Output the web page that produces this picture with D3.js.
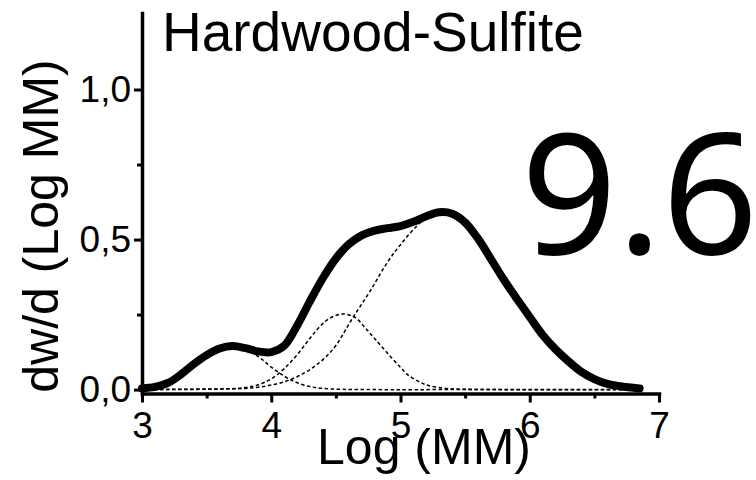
<!DOCTYPE html>
<html>
<head>
<meta charset="utf-8">
<script src="https://cdn.jsdelivr.net/npm/d3@7"></script>
<style>
  body { margin: 0; background: #fff; }
  text { font-family: "Liberation Sans", Arial, sans-serif; fill: #000; }
</style>
</head>
<body>
<div id="chart"></div>
<script>
// values
const mainX = [3.00, 3.10, 3.20, 3.30, 3.40, 3.50, 3.60, 3.70, 3.80, 3.90, 4.00, 4.10, 4.20, 4.30, 4.40, 4.50, 4.60, 4.70, 4.80, 4.90, 5.00, 5.10, 5.20, 5.30, 5.40, 5.50, 5.60, 5.70, 5.80, 5.90, 6.00, 6.10, 6.20, 6.30, 6.40, 6.50, 6.60, 6.70, 6.85];
const mainY = [0.004, 0.009, 0.022, 0.050, 0.085, 0.115, 0.137, 0.145, 0.138, 0.127, 0.125, 0.146, 0.213, 0.295, 0.372, 0.437, 0.484, 0.514, 0.530, 0.538, 0.545, 0.559, 0.578, 0.591, 0.586, 0.557, 0.503, 0.435, 0.366, 0.303, 0.242, 0.182, 0.134, 0.094, 0.059, 0.035, 0.019, 0.011, 0.004];

// fitted peaks (dashed)
const peak1X = [3.00, 3.10, 3.20, 3.30, 3.40, 3.50, 3.60, 3.72, 3.80, 3.90, 4.00, 4.10, 4.20, 4.30, 4.40, 4.55, 4.80, 5.50, 6.85];
const peak1Y = [0.005, 0.012, 0.025, 0.047, 0.076, 0.105, 0.130, 0.142, 0.135, 0.110, 0.075, 0.045, 0.023, 0.010, 0.004, 0.001, 0.000, 0.000, 0.000];

const peak2X = [3.00, 3.50, 3.70, 3.80, 3.90, 4.00, 4.10, 4.20, 4.30, 4.38, 4.45, 4.55, 4.65, 4.73, 4.80, 4.90, 5.00, 5.06, 5.15, 5.22, 5.35, 5.50, 6.85];
const peak2Y = [0.000, 0.001, 0.003, 0.007, 0.016, 0.036, 0.070, 0.116, 0.171, 0.212, 0.237, 0.252, 0.240, 0.204, 0.170, 0.121, 0.074, 0.048, 0.025, 0.013, 0.004, 0.001, 0.000];

const peak3X = [3.00, 3.50, 3.80, 3.90, 4.00, 4.10, 4.20, 4.30, 4.40, 4.50, 4.62, 4.76, 4.90, 5.00, 5.11, 5.20, 5.30, 5.40, 5.50, 5.60, 5.70, 5.80, 5.90, 6.00, 6.10, 6.20, 6.30, 6.40, 6.50, 6.60, 6.70, 6.85];
const peak3Y = [0.000, 0.002, 0.004, 0.008, 0.015, 0.026, 0.043, 0.067, 0.100, 0.147, 0.232, 0.325, 0.425, 0.483, 0.538, 0.572, 0.588, 0.582, 0.554, 0.500, 0.432, 0.363, 0.300, 0.240, 0.180, 0.132, 0.092, 0.058, 0.034, 0.018, 0.010, 0.003];

const xTicks = [3, 4, 5, 6, 7];
const xMinorTicks = [3.5, 4.5, 5.5, 6.5];
const yTicks = [0, 0.5, 1.0];
const yTickLabels = ["0,0", "0,5", "1,0"];
const yMinorTicks = [0.25, 0.75];
const xDomain = [3, 7];
const yDomain = [-0.013, 1.255];

const chartTitle = "Hardwood-Sulfite";
const sampleLabel = "9.6";
const xTitle = "Log (MM)";
const yTitle = "dw/d (Log MM)";

const svgWidth = 756;
const svgHeight = 480;

// plot box
const plot = { left: 142, right: 659, top: 13, bottom: 393.5 };

const svg = d3
  .select("#chart")
  .append("svg")
  .attr("width", svgWidth)
  .attr("height", svgHeight);

const x = d3.scaleLinear().domain(xDomain).range([plot.left, plot.right]);
const y = d3.scaleLinear().domain(yDomain).range([plot.bottom, plot.top]);

// curves
const line = d3.line()
  .x(d => x(d[0]))
  .y(d => y(d[1]))
  .curve(d3.curveCatmullRom.alpha(0.5));

const peaks = [[peak1X, peak1Y], [peak2X, peak2Y], [peak3X, peak3Y]];

svg.append("g")
  .selectAll("path")
  .data(peaks)
  .enter()
  .append("path")
  .attr("d", p => line(d3.zip(p[0], p[1])))
  .attr("fill", "none")
  .attr("stroke", "#000")
  .attr("stroke-width", 1.5)
  .attr("stroke-dasharray", "3.5,2.5");

svg.append("path")
  .attr("d", line(d3.zip(mainX, mainY)))
  .attr("fill", "none")
  .attr("stroke", "#000")
  .attr("stroke-width", 8)
  .attr("stroke-linecap", "round")
  .attr("stroke-linejoin", "round");

// axes
function styleAxis(g) {
  g.select(".domain").attr("stroke-width", 3.5).attr("stroke-linecap", "square");
  g.selectAll(".tick line").attr("stroke-width", 3);
  g.selectAll(".tick text")
    .attr("font-size", "37px")
    .attr("font-family", "Liberation Sans, Arial, sans-serif");
}

svg.append("g")
  .attr("transform", `translate(0, ${plot.bottom})`)
  .call(d3.axisBottom(x).tickValues(xMinorTicks).tickSize(5).tickSizeOuter(0).tickFormat(""))
  .call(g => g.select(".domain").remove())
  .call(g => g.selectAll(".tick line").attr("stroke-width", 3));

svg.append("g")
  .attr("transform", `translate(${plot.left}, 0)`)
  .call(d3.axisLeft(y).tickValues(yMinorTicks).tickSize(5).tickSizeOuter(0).tickFormat(""))
  .call(g => g.select(".domain").remove())
  .call(g => g.selectAll(".tick line").attr("stroke-width", 3));

svg.append("g")
  .attr("transform", `translate(0, ${plot.bottom})`)
  .call(d3.axisBottom(x).tickValues(xTicks).tickSize(9).tickSizeOuter(0).tickPadding(9).tickFormat(d3.format("d")))
  .call(styleAxis);

svg.append("g")
  .attr("transform", `translate(${plot.left}, 0)`)
  .call(d3.axisLeft(y).tickValues(yTicks).tickSize(8).tickSizeOuter(0).tickPadding(3)
    .tickFormat((d, i) => yTickLabels[i]))
  .call(styleAxis);

// titles
svg.append("text")
  .attr("x", 162)
  .attr("y", 51)
  .attr("font-size", "55px")
  .text(chartTitle);

svg.append("text")
  .attr("x", 424)
  .attr("y", 464)
  .attr("text-anchor", "middle")
  .attr("font-size", "50px")
  .text(xTitle);

svg.append("text")
  .attr("transform", `translate(58, 226) rotate(-90)`)
  .attr("text-anchor", "middle")
  .attr("font-size", "50px")
  .text(yTitle);

svg.append("text")
  .attr("x", 521)
  .attr("y", 254)
  .style("font-family", "'Noto Sans', sans-serif")
  .attr("font-size", "168px")
  .text(sampleLabel);
</script>
</body>
</html>
